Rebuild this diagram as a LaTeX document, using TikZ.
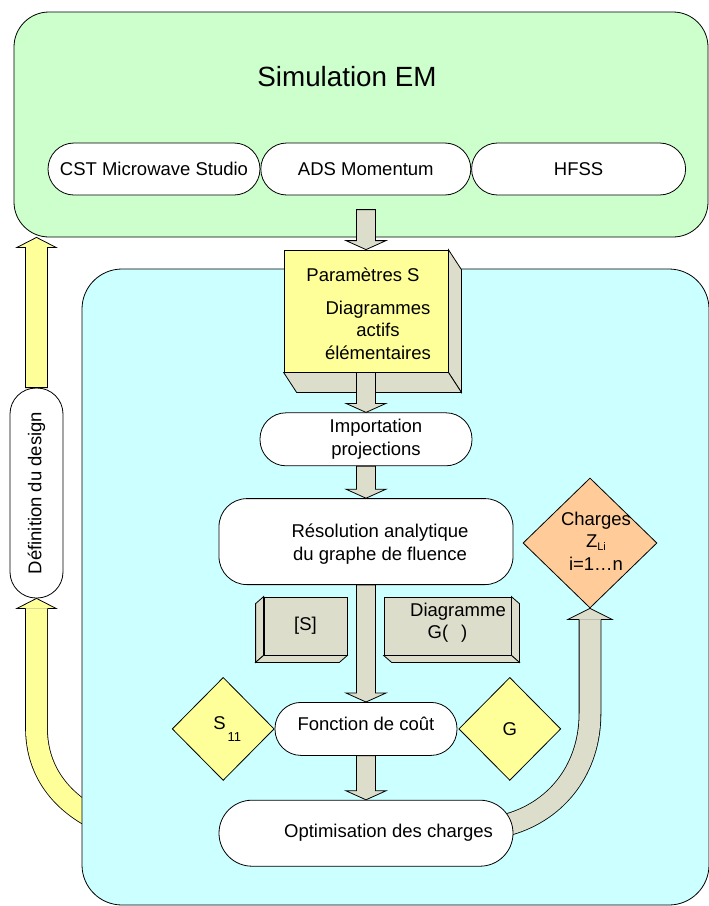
\documentclass[tikz,border=0pt]{standalone}
\usepackage{fontspec}
\usepackage{graphicx}
\setmainfont{Liberation Sans}
\usepackage{tikz}
\usetikzlibrary{positioning,calc,shapes.geometric}
\definecolor{Mint}{RGB}{204,255,204}
\definecolor{Sky}{RGB}{204,255,255}
\definecolor{Butter}{RGB}{255,255,153}
\definecolor{Stone}{RGB}{221,221,204}
\definecolor{Peach}{RGB}{255,204,153}
\newcommand\boxfont{\fontsize{18.5}{22.5}\selectfont}
\pgfdeclarelayer{front}
\pgfsetlayers{main,front}
\tikzset{
  panel/.style={draw,line width=0.8pt,rounded corners=#1},
  pill/.style={draw,fill=white,line width=0.8pt,rounded corners=#1,align=center},
  slab/.style={draw,line width=0.8pt,align=center},
  slabside/.style={draw,line width=0.8pt,fill=Stone},
  rhombus/.style={diamond,draw,line width=0.8pt,inner sep=0pt,align=center},
  blockarrow/.style={draw,line width=0.8pt,fill=Stone},
  pipe/.style={double=#1,double distance=21pt,line width=0.8pt}
}
% straight block arrows: start, tip
\newcommand\blockdn[2]{%
  \draw[blockarrow] let \p1=(#1),\p2=(#2) in
    (\x2-9.5pt,\y1) -- (\x2-9.5pt,\y2+9pt) -- (\x2-20pt,\y2+9pt) -- (\x2,\y2)
    -- (\x2+20pt,\y2+9pt) -- (\x2+9.5pt,\y2+9pt) -- (\x2+9.5pt,\y1) -- cycle;}
\newcommand\blockup[3][Stone]{%
  \draw[blockarrow,fill=#1] let \p1=(#2),\p2=(#3) in
    (\x2-11pt,\y1) -- (\x2-11pt,\y2-10pt) -- (\x2-19.5pt,\y2-10pt) -- (\x2,\y2)
    -- (\x2+19.5pt,\y2-10pt) -- (\x2+11pt,\y2-10pt) -- (\x2+11pt,\y1) -- cycle;}
% head of a bent arrow: fill, tip, half width, length
\newcommand\headup[4]{%
  \fill[#1] let \p1=(#2) in (\x1-#3,\y1-#4) -- (\x1,\y1) -- (\x1+#3,\y1-#4) -- cycle;
  \draw[line width=0.8pt] let \p1=(#2) in (\x1-11pt,\y1-#4) -- (\x1-#3,\y1-#4) -- (\x1,\y1)
    -- (\x1+#3,\y1-#4) -- (\x1+11pt,\y1-#4);}
% 3D faces of a box: node, offset, side
\newcommand\slab[3]{%
  \draw[slabside] (#1.north #3) -- ($(#1.north #3)+#2$) -- ($(#1.south #3)+#2$) -- (#1.south #3) -- cycle;
  \draw[slabside] (#1.south west) -- ($(#1.south west)+#2$) -- ($(#1.south east)+#2$) -- (#1.south east) -- cycle;}

\begin{document}
\begin{tikzpicture}[x=1pt,y=-1pt,every node/.style={font=\boxfont}]
\useasboundingbox (0,0) rectangle (709,906);
% simulation
\node[panel=35pt,fill=Mint,minimum width=694pt,minimum height=225pt](sim) at (361,124.5){};
\node[font=\fontsize{27.8}{32}\selectfont](simtitle) at (347,77){Simulation EM};
\node[pill=26pt,minimum width=212pt,minimum height=52pt](cst) at (154,169){CST Microwave Studio};
\node[pill=26pt,minimum width=210pt,minimum height=52pt,right=0pt of cst](ads){ADS Momentum};
\node[pill=26pt,minimum width=214pt,minimum height=52pt,right=0pt of ads](hfss){HFSS};
% design loop
\node[pill=26pt,minimum width=53pt,minimum height=210pt](design) at (36.5,493){\rotatebox{90}{Définition du design}};
\blockup[Butter]{design.north}{design.north |- sim.south}
\coordinate (dbase) at ($(design.south)+(0,10)$);
\draw[pipe=Butter] (dbase) -- ++(0,120) .. controls +(0,45) and +(-48,-18) .. (112,826);
\headup{Butter}{design.south}{19.5pt}{10pt}
% optimisation
\node[panel=40pt,fill=Sky,minimum width=627pt,minimum height=636pt](loop) at (395.5,587){};
\node[slab,fill=Butter,minimum width=164pt,minimum height=122pt](params) at (366,311){\raisebox{-5pt}[\height][\depth]{\begin{tabular}{@{}c@{}}\hspace*{-6pt}Paramètres S\\[10pt]\hspace*{24pt}Diagrammes\\\hspace*{24pt}actifs\\\hspace*{24pt}élémentaires\end{tabular}}};
\slab{params}{(13,20)}{east}
\blockdn{$(params.north)+(0,-40)$}{params.north}
\node[pill=26pt,minimum width=212pt,minimum height=53pt,below=40pt of params](import){\hspace*{20pt}Importation\\\hspace*{20pt}projections};
\blockdn{params.south}{import.north}
\node[pill=28pt,minimum width=294pt,minimum height=86pt,below=32pt of import](resol){\raisebox{-3pt}[\height][\depth]{\begin{tabular}{@{}c@{}}\hspace*{28pt}Résolution analytique\\\hspace*{28pt}du graphe de fluence\end{tabular}}};
\blockdn{import.south}{resol.north}
\node[slab,fill=Stone,minimum width=83pt,minimum height=58pt](smat) at (305.5,626){[S]};
\slab{smat}{(-8,7)}{west}
\node[slab,fill=Stone,minimum width=127pt,minimum height=58pt](gdiag) at (447.5,626){\raisebox{3pt}[\height][\depth]{\begin{tabular}{@{}c@{}}\hspace*{21pt}Diagramme\\G(\hspace{13pt})\end{tabular}}};
\slab{gdiag}{(8,7)}{east}
\node[pill=26pt,minimum width=182pt,minimum height=53pt,below=117pt of resol](cost){\raisebox{5pt}[\height][\depth]{Fonction de coût}};
\blockdn{resol.south}{cost.north}
\node[rhombus,fill=Butter,minimum width=102pt,minimum height=103pt,left=0pt of cost](sparam){\hspace*{8pt}\raisebox{8pt}{S}\hspace{2pt}\raisebox{-4pt}{\fontsize{13}{13}\selectfont 11}};
\node[rhombus,fill=Butter,minimum width=102pt,minimum height=103pt,right=1pt of cost](gain){G};
\begin{pgfonlayer}{front}
\node[pill=33pt,minimum width=294pt,minimum height=66pt,below=44pt of cost](optim){\hspace*{45pt}Optimisation des charges};
\end{pgfonlayer}
\blockdn{cost.south}{optim.north}
\node[rhombus,fill=Peach,minimum width=134pt,minimum height=130pt,
  label={[align=center,xshift=6pt,yshift=2pt]center:Charges\\Z\raisebox{-2.5pt}{\fontsize{11}{11}\selectfont Li}\\i=1…n}](charges) at (590,543){};
\coordinate (cbase) at ($(charges.south)+(0,11)$);
\draw[pipe=Stone] ($(optim.east)+(-4,-9)$) .. controls +(48,-14) and +(0,55) .. ($(cbase)+(0,94)$) -- (cbase);
\headup{Stone}{charges.south}{22pt}{11pt}
\end{tikzpicture}
\end{document}
